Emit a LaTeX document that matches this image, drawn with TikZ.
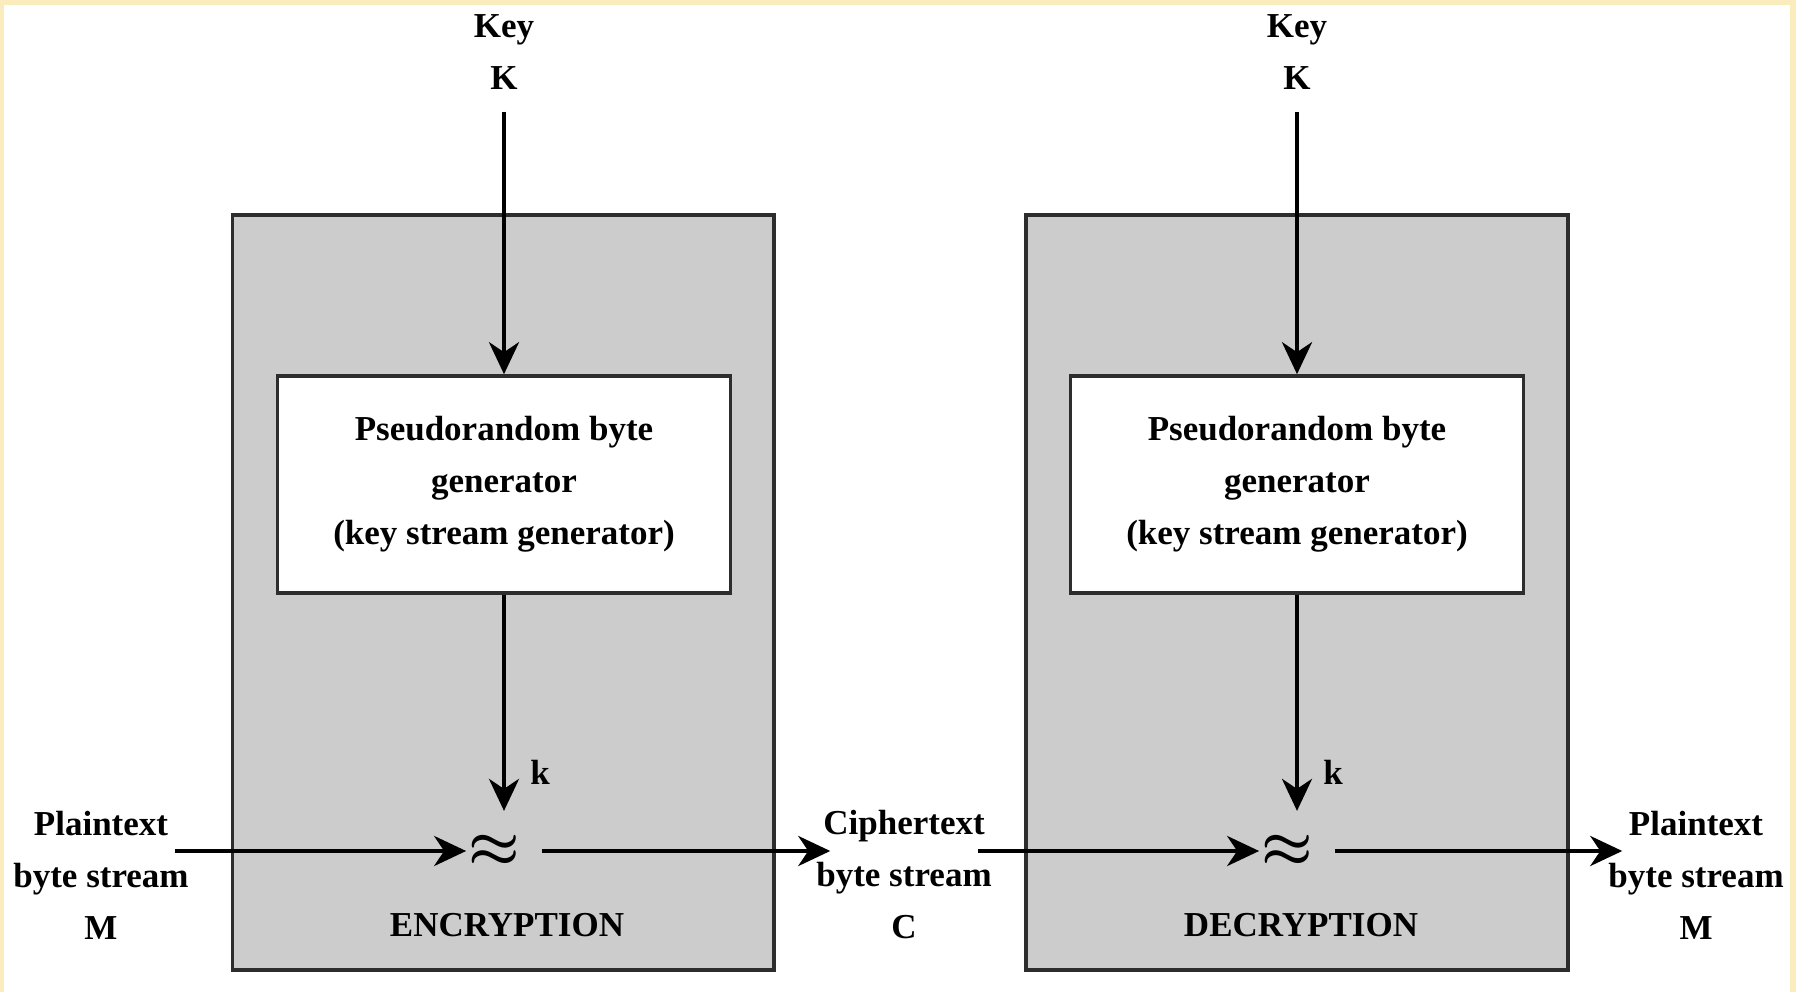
\documentclass[tikz,border=0pt]{standalone}
\usepackage{fontspec}
\setmainfont{Liberation Serif}
\usetikzlibrary{arrows.meta,positioning}
\definecolor{boxgray}{RGB}{204,204,204}
\definecolor{framebeige}{RGB}{251,236,190}
\definecolor{edgegray}{RGB}{45,45,45}

\begin{document}
\begin{tikzpicture}[x=0.25pt, y=-0.25pt, >={Stealth[length=8pt,width=7.5pt,inset=2.5pt]},
    line width=1.05pt,
    every node/.style={font=\fontsize{8.75}{13}\selectfont\bfseries, align=center},
    stage/.style={draw=edgegray, line width=0.9pt, fill=boxgray, minimum width=135.4pt, minimum height=188.75pt},
    gen/.style={draw=edgegray, line width=0.9pt, fill=white, minimum width=113.25pt, minimum height=54.25pt, inner sep=0pt},
    xor/.style={minimum width=16pt, minimum height=19pt, inner sep=0pt, font=\fontsize{14}{14}\selectfont\boldmath},
    keylabel/.style={inner sep=5pt},
    stream/.style={inner xsep=-4pt, inner ysep=0pt}
    ]
% \draw[help lines] (0,0) grid (1796,992);
\fill[framebeige] (0,0) rectangle (1796,992);
\fill[white] (4,5) rectangle (1790,992);
\useasboundingbox (0,0) rectangle (1796,992);

\node[stage] (enc) at (503.25,592.5) {};
\node[stage] (dec) at (1297,592.5) {};

\node[keylabel] (keyE) at (504,52) {Key\\K};
\node[gen] (genE) at (504,484.5) {Pseudorandom byte\\generator\\(key stream generator)};
\node[xor] (xorE) at (504,851) {\raisebox{-1.5pt}{$\approx$}\hspace*{5pt}};
\node (kE) at (540,772) {k};
\node (labE) at (507,925) {ENCRYPTION};

\node[keylabel] (keyD) at (1297,52) {Key\\K};
\node[gen] (genD) at (1297,484.5) {Pseudorandom byte\\generator\\(key stream generator)};
\node[xor] (xorD) at (1297,851) {\raisebox{-1.5pt}{$\approx$}\hspace*{5pt}};
\node (kD) at (1333,772) {k};
\node (labD) at (1301,925) {DECRYPTION};

\node[stream] (ptL) at (101,875) {Plaintext\\byte stream\\M};
\node[stream] (ctC) at (904,875) {Ciphertext\\byte stream\\C};
\node[stream] (ptR) at (1696,875) {Plaintext\\byte stream\\M};

\path[->]
(keyE) edge (genE)
(genE) edge (genE.south |- xorE.north)
(ptL.east |- xorE) edge (xorE)
(xorE) edge (xorE -| ctC.west)
;
\path[->]
(keyD) edge (genD)
(genD) edge (genD.south |- xorD.north)
(ctC.east |- xorD) edge (xorD)
(xorD) edge (xorD -| ptR.west)
;
\end{tikzpicture}
\end{document}
